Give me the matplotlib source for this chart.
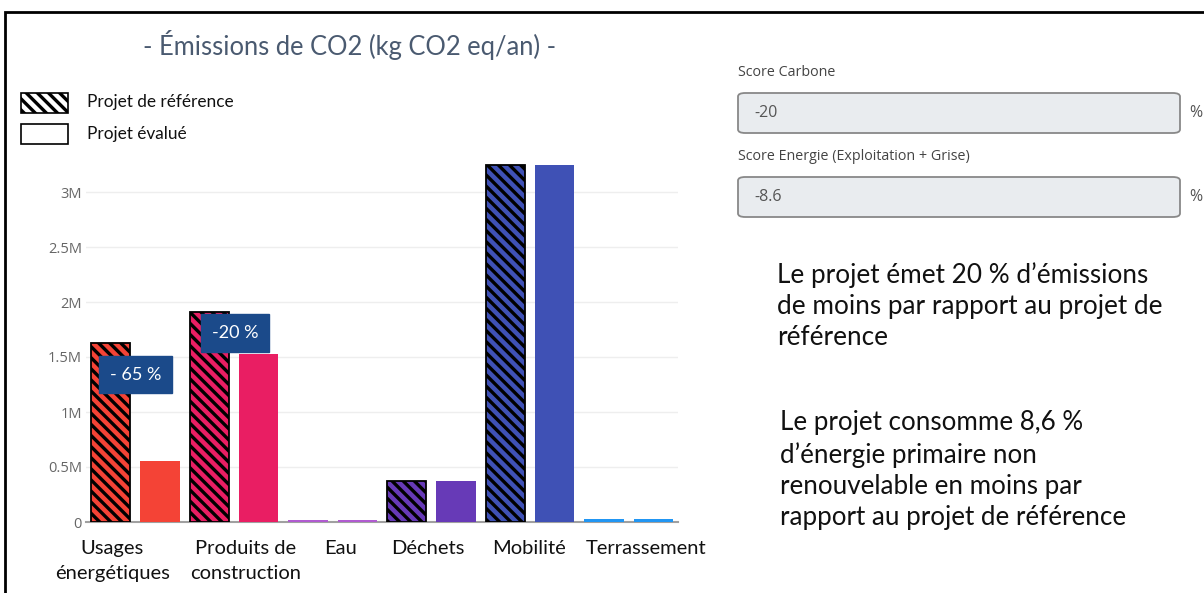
import matplotlib
matplotlib.use("Agg")
import matplotlib.pyplot as plt
from matplotlib.patches import Rectangle, FancyBboxPatch
from matplotlib.transforms import ScaledTranslation
import numpy as np

categories = ["Usages\nénergétiques", "Produits de\nconstruction", "Eau", "Déchets", "Mobilité", "Terrassement"]
reference_values = [1.63e6, 1.91e6, 0.018e6, 0.373e6, 3.245e6, 0.025e6]
evaluated_values = [0.557e6, 1.53e6, 0.018e6, 0.37e6, 3.245e6, 0.025e6]
colors = ["#F44336", "#E91E63", "#B05BD0", "#673AB7", "#3F51B5", "#2196F3"]
yticks = [0, 0.5e6, 1e6, 1.5e6, 2e6, 2.5e6, 3e6]
ytick_labels = ["0", "0.5M", "1M", "1.5M", "2M", "2.5M", "3M"]
annotations = [("- 65 %", 0.0, 1.34e6), ("-20 %", 1.01, 1.72e6)]
legend_labels = ["Projet de référence", "Projet évalué"]
title = "- Émissions de CO2 (kg CO2 eq/an) -"
score_labels = ["Score Carbone", "Score Energie (Exploitation + Grise)"]
score_values = ["-20", "-8.6"]
paragraph1 = "Le projet émet 20 % d’émissions\nde moins par rapport au projet de\nréférence"
paragraph2 = "Le projet consomme 8,6 %\nd’énergie primaire non\nrenouvelable en moins par\nrapport au projet de référence"

W, H = 1204, 593
fig = plt.figure(figsize=(W / 100, H / 100), dpi=100)
fig.patch.set_facecolor("white")

def fx(px):
    return px / W

def fy(py):
    return 1 - py / H

# outer border
fig.add_artist(Rectangle((fx(5), fy(700)), fx(1300), fy(12) - fy(700), transform=fig.transFigure,
                         fill=False, edgecolor="black", linewidth=2))

ymax = 3.42e6
ax = fig.add_axes([fx(86), fy(522), fx(678) - fx(86), fy(522 - ymax / 1e6 * 110) - fy(522)])
x = np.arange(len(categories))
plt.rcParams["hatch.linewidth"] = 2.4
for i in range(len(categories)):
    tiny = reference_values[i] < 0.05e6
    ax.bar(x[i] - 0.25, reference_values[i], width=0.4, color=colors[i],
           edgecolor=colors[i] if tiny else "black",
           hatch=None if tiny else "\\\\\\", linewidth=0 if tiny else 1.3, zorder=3)
    ax.bar(x[i] + 0.25, evaluated_values[i], width=0.4, color=colors[i], edgecolor="none", zorder=3)

ax.set_xlim(-0.5, 5.5)
ax.set_ylim(0, ymax)
ax.set_yticks(yticks)
ax.set_yticklabels(ytick_labels, fontsize=10.5, color="#666666", family="Open Sans")
ax.set_xticks(x)
ax.set_xticklabels(categories, fontsize=14.5, family="Lato", color="#111111", linespacing=1.55)
ax.tick_params(axis="both", length=0)
ax.tick_params(axis="x", pad=13)
ax.tick_params(axis="y", pad=3)
label_shift_px = [-23, 12, 8, -4, -1, 17]
for lab, dx in zip(ax.get_xticklabels(), label_shift_px):
    lab.set_transform(lab.get_transform() + ScaledTranslation(dx / 100, 0, fig.dpi_scale_trans))
ax.grid(axis="y", color="#eeeeee", linewidth=1, zorder=0)
for s in ["top", "right", "left"]:
    ax.spines[s].set_visible(False)
ax.spines["bottom"].set_color("#a0a0a0")
ax.spines["bottom"].set_linewidth(1.5)
ax.spines["bottom"].set_zorder(2.5)

for txt, xa, ya in annotations:
    ax.text(xa, ya, txt, ha="center", va="center", color="white", fontsize=13, family="Lato",
            zorder=5, bbox=dict(boxstyle="square,pad=0.6", facecolor="#1B4A8A", edgecolor="#1B4A8A"))

# title
fig.text(fx(350), fy(45), title, ha="center", va="center", fontsize=18.4, color="#4A5A70", family="Lato")

# legend
fig.add_artist(Rectangle((fx(21), fy(113)), fx(47), fy(93) - fy(113), transform=fig.transFigure,
                         facecolor="white", edgecolor="black", hatch="\\\\\\", linewidth=1.2))
fig.add_artist(Rectangle((fx(21), fy(144)), fx(47), fy(124) - fy(144), transform=fig.transFigure,
                         facecolor="white", edgecolor="black", linewidth=1.2))
fig.text(fx(87), fy(102), legend_labels[0], ha="left", va="center", fontsize=12.4, family="Lato", color="#111111")
fig.text(fx(87), fy(134), legend_labels[1], ha="left", va="center", fontsize=12.4, family="Lato", color="#111111")

# right panel score boxes
for k, (lab, val) in enumerate(zip(score_labels, score_values)):
    ly = 73 + k * 84
    by_top = 93 + k * 84
    fig.text(fx(738), fy(ly), lab, ha="left", va="center", fontsize=10.3, family="Open Sans", color="#444444")
    fig.add_artist(FancyBboxPatch((fx(738), fy(by_top + 40)), fx(1180) - fx(738), fy(by_top) - fy(by_top + 40),
                                  boxstyle="round,pad=0,rounding_size=0.006", transform=fig.transFigure,
                                  facecolor="#E9ECEF", edgecolor="#888888", linewidth=1.3))
    fig.text(fx(754), fy(by_top + 20), val, ha="left", va="center", fontsize=11.5, family="Open Sans", color="#555555")
    fig.text(fx(1189), fy(by_top + 20), "%", ha="left", va="center", fontsize=11.5, family="Open Sans", color="#555555")

fig.text(fx(777), fy(306), paragraph1, ha="left", va="center", fontsize=18.8, family="Lato",
         color="#111111", linespacing=1.3)
fig.text(fx(780), fy(470), paragraph2, ha="left", va="center", fontsize=18.7, family="Lato",
         color="#111111", linespacing=1.3)

fig.savefig("out.png", dpi=100)
